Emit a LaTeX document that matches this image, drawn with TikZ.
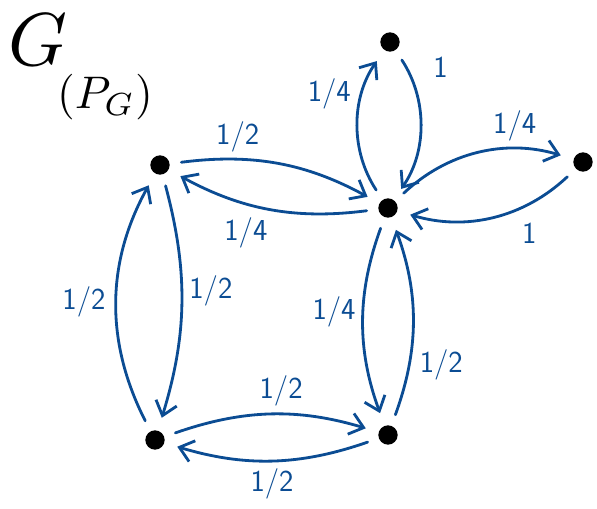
\documentclass[tikz,border=0pt]{standalone}
\usepackage{graphicx}
\usetikzlibrary{arrows.meta}
\definecolor{Pen}{HTML}{0B4C93}
\tikzset{
  dot/.style={circle, fill=black, minimum size=5.8mm, inner sep=0pt},
  arc/.style={-{Straight Barb[length=4mm,width=6.5mm]}, draw=Pen, line width=2.4pt,
    line cap=round, shorten >=4mm, shorten <=3.5mm},
  lbl/.style={text=Pen, inner sep=6pt, font=\fontsize{26}{28}\selectfont\sffamily}
}
\begin{document}
\begin{tikzpicture}[x=0.3mm, y=0.3mm]
  \useasboundingbox (0,0) rectangle (597,508);
  % title
  \node[anchor=north west, inner sep=0pt] (title) at (8,494)
    {\scalebox{6.4}{$G$}\hspace{-3mm}\raisebox{-13mm}{\scalebox{3.9}{$(P_G)$}}};
  % vertices
  \node[dot] (a) at (160,343) {};
  \node[dot] (b) at (390,466) {};
  \node[dot] (c) at (388,300) {};
  \node[dot] (d) at (583,346) {};
  \node[dot] (e) at (155,68) {};
  \node[dot] (f) at (388,73) {};
  % a <-> c
  \draw[arc] (a) to[bend left=18] node[lbl, auto, pos=0.3] {1/2} (c);
  \draw[arc] (c) to[bend left=18] node[lbl, auto, pos=0.47] {1/4} (a);
  % c <-> b
  \draw[arc] (c) to[bend left=34] node[lbl, auto, pos=0.55] {1/4} (b);
  \draw[arc] (b) to[bend left=34] node[lbl, auto, pos=0.3, inner sep=14pt] {1} (c);
  % c <-> d
  \draw[arc] (c) to[bend left=30] node[lbl, auto, pos=0.7] {1/4} (d);
  \draw[arc] (d) to[bend left=30] node[lbl, auto, pos=0.4, inner sep=9pt] {1} (c);
  % a <-> e
  \draw[arc] (a) to[bend left=16] node[lbl, auto, pos=0.45] {1/2} (e);
  \draw[arc] (e) to[bend left=28] node[lbl, auto, pos=0.5, inner sep=9pt] {1/2} (a);
  % e <-> f
  \draw[arc] (e) to[bend left=18] node[lbl, auto, pos=0.55] {1/2} (f);
  \draw[arc] (f) to[bend left=18] node[lbl, auto, pos=0.5] {1/2} (e);
  % c <-> f
  \draw[arc] (c) to[bend right=20] node[lbl, auto, swap, pos=0.45] {1/4} (f);
  \draw[arc] (f) to[bend right=20] node[lbl, auto, swap, pos=0.4] {1/2} (c);
\end{tikzpicture}
\end{document}
